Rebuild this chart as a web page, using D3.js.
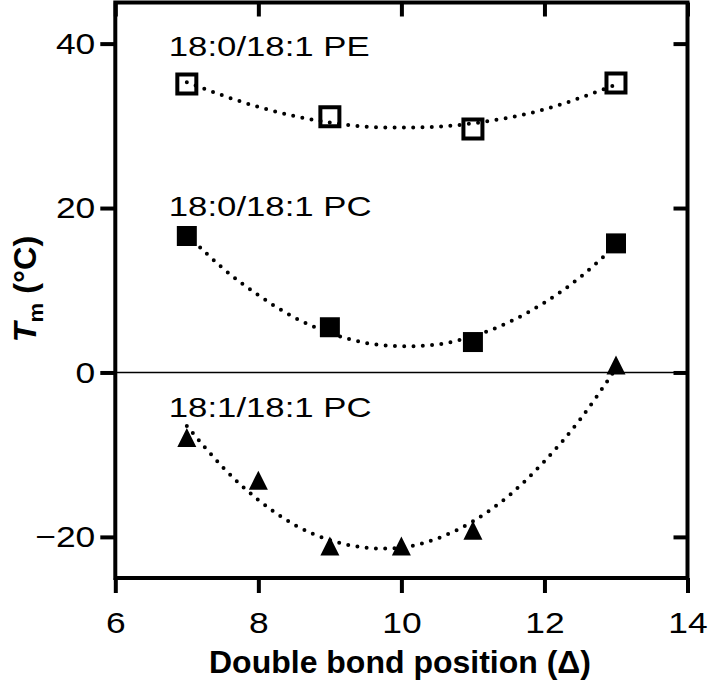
<!DOCTYPE html>
<html>
<head>
<meta charset="utf-8">
<script src="https://cdn.jsdelivr.net/npm/d3@7/dist/d3.min.js"></script>
<style>
  body { margin: 0; background: #fff; }
  text { font-family: "Liberation Sans", Arial, Helvetica, sans-serif; fill: #000; }
</style>
</head>
<body>
<svg id="chart" width="709" height="688"></svg>
<script>
// measured points
const positions = [7, 9, 11, 13];
const pe1801 = [35.1, 31.1, 29.6, 35.2];      // 18:0/18:1 PE, open squares
const pc1801 = [16.6, 5.5, 3.7, 15.7];        // 18:0/18:1 PC, filled squares
const pc181Positions = [7, 8, 9, 10, 11, 13];
const pc181 = [-7.9, -13.1, -21.1, -21.1, -19.2, 0.9]; // 18:1/18:1 PC, triangles

// dotted fit curves
const fitX = [7, 7.5, 8, 8.5, 9, 9.5, 10, 10.5, 11, 11.5, 12, 12.5, 13];
const fitPE = [35.3, 33.7, 32.3, 31.2, 30.4, 29.9, 29.8, 29.9, 30.3, 31.0, 32.0, 33.4, 35.0];
const fitPC = [16.8, 12.7, 9.4, 6.7, 4.8, 3.6, 3.2, 3.4, 4.4, 6.1, 8.5, 11.6, 15.5];
const fitPC181 = [-6.5, -11.5, -15.5, -18.5, -20.4, -21.3, -21.3, -20.2, -18.1, -15.0, -10.8, -5.7, 0.5];

const seriesLabels = ["18:0/18:1 PE", "18:0/18:1 PC", "18:1/18:1 PC"];
const labelAnchors = [[7, 38.5], [7, 19.0], [7, -5.4]]; // data coords of label start/baseline
const xTicks = [6, 8, 10, 12, 14];
const yTicks = [-20, 0, 20, 40];

const svg = d3.select("#chart");

const x = d3.scaleLinear().domain([6, 14]).range([115.3, 687.5]);
const y = d3.scaleLinear().domain([-25, 45]).range([578, 2.5]);

// stretch text horizontally (the original lettering is wide)
function widen(sel, k) {
  sel.each(function () {
    const len = this.getComputedTextLength();
    d3.select(this).attr("textLength", len * k).attr("lengthAdjust", "spacingAndGlyphs");
  });
}

// zero line
svg.append("line")
  .attr("x1", x(6)).attr("x2", x(14))
  .attr("y1", y(0)).attr("y2", y(0))
  .attr("stroke", "#000").attr("stroke-width", 1.6);

// axes
const styleAxis = (g) => {
  g.select(".domain").remove();
  g.selectAll(".tick line").attr("stroke", "#000").attr("stroke-width", 4);
  g.selectAll(".tick text").style("font-size", "30px").attr("fill", "#000");
};

svg.append("g")
  .attr("transform", `translate(0,${y(-25)})`)
  .call(d3.axisBottom(x).tickValues(xTicks).tickSize(15).tickPadding(19))
  .call(styleAxis);

svg.append("g")
  .attr("transform", `translate(${x(6)},0)`)
  .call(d3.axisLeft(y).tickValues(yTicks).tickSize(15).tickPadding(5))
  .call(styleAxis);

svg.append("g")
  .attr("transform", `translate(0,${y(45)})`)
  .call(d3.axisTop(x).tickValues(xTicks).tickSize(-14).tickFormat(() => ""))
  .call(styleAxis);

svg.append("g")
  .attr("transform", `translate(${x(14)},0)`)
  .call(d3.axisRight(y).tickValues(yTicks).tickSize(-14).tickFormat(() => ""))
  .call(styleAxis);

widen(svg.selectAll(".tick text"), 1.18);

// frame
svg.append("rect")
  .attr("x", x(6)).attr("y", y(45))
  .attr("width", x(14) - x(6)).attr("height", y(-25) - y(45))
  .attr("fill", "none").attr("stroke", "#000").attr("stroke-width", 4);

// markers
const tri = {
  draw(ctx, size) {
    const w = Math.sqrt(size);
    ctx.moveTo(0, -w / 2);
    ctx.lineTo(w / 2, w / 2);
    ctx.lineTo(-w / 2, w / 2);
    ctx.closePath();
  }
};

svg.append("g").selectAll("path")
  .data(positions.map((p, i) => [p, pe1801[i]]))
  .join("path")
  .attr("transform", (d) => `translate(${x(d[0])},${y(d[1])})`)
  .attr("d", d3.symbol(d3.symbolSquare, 19 * 19))
  .attr("fill", "#fff").attr("stroke", "#000").attr("stroke-width", 4);

svg.append("g").selectAll("path")
  .data(positions.map((p, i) => [p, pc1801[i]]))
  .join("path")
  .attr("transform", (d) => `translate(${x(d[0])},${y(d[1])})`)
  .attr("d", d3.symbol(d3.symbolSquare, 20 * 20))
  .attr("fill", "#000");

svg.append("g").selectAll("path")
  .data(pc181Positions.map((p, i) => [p, pc181[i]]))
  .join("path")
  .attr("transform", (d) => `translate(${x(d[0])},${y(d[1])})`)
  .attr("d", d3.symbol(tri, 19 * 19))
  .attr("fill", "#000");

// dotted fits
const line = d3.line()
  .x((d) => x(d[0]))
  .y((d) => y(d[1]))
  .curve(d3.curveNatural);

[fitPE, fitPC, fitPC181].forEach((vals) => {
  svg.append("path")
    .datum(fitX.map((v, i) => [v, vals[i]]))
    .attr("d", line)
    .attr("fill", "none")
    .attr("stroke", "#000")
    .attr("stroke-width", 4)
    .attr("stroke-linecap", "round")
    .attr("stroke-dasharray", "0 9.3");
});

// series labels
const labels = svg.append("g").selectAll("text")
  .data(seriesLabels)
  .join("text")
  .attr("x", (d, i) => x(labelAnchors[i][0]) - 18)
  .attr("y", (d, i) => y(labelAnchors[i][1]))
  .style("font-size", "28px")
  .text((d) => d);
widen(labels, 1.24);

// axis titles
svg.append("text")
  .attr("x", 400).attr("y", 673)
  .attr("text-anchor", "middle")
  .style("font-size", "32px").style("font-weight", "bold")
  .text("Double bond position (Δ)");

const yTitle = svg.append("text")
  .attr("transform", "translate(36,289) rotate(-90)")
  .attr("text-anchor", "middle")
  .style("font-size", "31px").style("font-weight", "bold");
yTitle.append("tspan").style("font-style", "italic").text("T");
yTitle.append("tspan").attr("dy", 7).style("font-size", "21px").text("m");
yTitle.append("tspan").attr("dy", -7).text(" (°C)");
widen(yTitle, 1.05);
</script>
</body>
</html>
